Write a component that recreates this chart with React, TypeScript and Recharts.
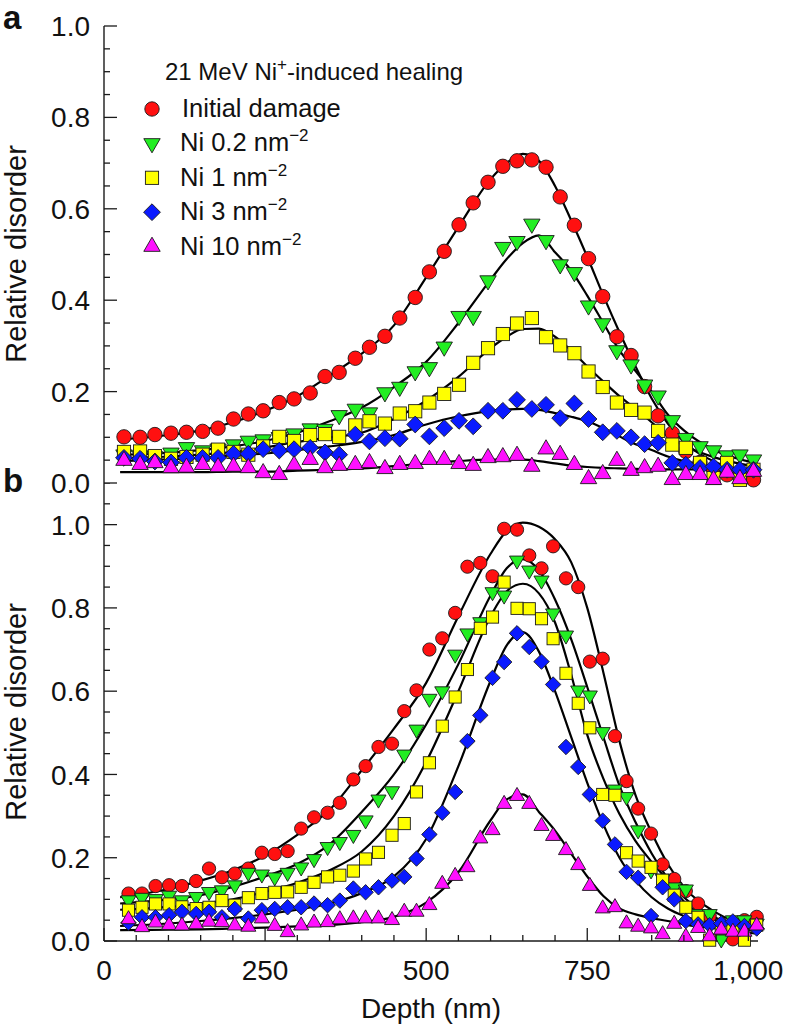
import React from "react";
import { ComposedChart, Line, Scatter, XAxis, YAxis } from "recharts";

// depth grid (nm) of the measured points, panel a and panel b
const depthA = [31, 56, 79, 104, 128, 153, 177, 201, 224, 247, 272, 295, 320, 343, 365, 390, 412, 436, 459, 483, 505, 528, 551, 573, 596, 619, 641, 664, 686, 708, 730, 752, 774, 796, 818, 839, 860, 882, 903, 925, 946, 967, 987, 1008];
const depthB = [38, 59, 80, 101, 121, 143, 163, 183, 203, 224, 245, 265, 285, 306, 326, 347, 366, 387, 406, 426, 447, 466, 485, 505, 525, 545, 564, 584, 603, 621, 641, 660, 679, 697, 717, 736, 754, 774, 793, 811, 829, 849, 867, 885, 903, 922, 940, 958, 976, 994, 1013];

// panel a: 21 MeV Ni-induced healing
const initialA = [0.101, 0.100, 0.106, 0.109, 0.111, 0.113, 0.120, 0.140, 0.151, 0.158, 0.176, 0.184, 0.197, 0.233, 0.242, 0.273, 0.297, 0.321, 0.361, 0.406, 0.462, 0.507, 0.565, 0.613, 0.658, 0.693, 0.705, 0.707, 0.691, 0.626, 0.564, 0.491, 0.408, 0.320, 0.279, 0.211, 0.147, 0.109, 0.069, 0.045, 0.030, 0.018, 0.012, 0.007];
const ni02A = [0.062, 0.060, 0.058, 0.066, 0.078, 0.071, 0.075, 0.084, 0.092, 0.095, 0.100, 0.108, 0.119, 0.118, 0.148, 0.162, 0.154, 0.198, 0.210, 0.244, 0.253, 0.298, 0.365, 0.365, 0.443, 0.516, 0.529, 0.567, 0.531, 0.478, 0.461, 0.388, 0.349, 0.290, 0.259, 0.215, 0.191, 0.137, 0.098, 0.080, 0.071, 0.060, 0.062, 0.051];
const ni1A = [0.068, 0.069, 0.059, 0.053, 0.057, 0.062, 0.073, 0.068, 0.062, 0.080, 0.101, 0.092, 0.105, 0.107, 0.101, 0.126, 0.135, 0.130, 0.152, 0.157, 0.176, 0.195, 0.215, 0.263, 0.295, 0.326, 0.349, 0.361, 0.319, 0.301, 0.284, 0.244, 0.210, 0.176, 0.160, 0.154, 0.114, 0.084, 0.077, 0.044, 0.011, 0.044, 0.007, 0.029];
const ni3A = [0.055, 0.053, 0.047, 0.045, 0.055, 0.055, 0.055, 0.064, 0.064, 0.074, 0.071, 0.074, 0.077, 0.067, 0.062, 0.106, 0.091, 0.098, 0.097, 0.128, 0.102, 0.120, 0.136, 0.124, 0.158, 0.158, 0.182, 0.162, 0.171, 0.142, 0.174, 0.140, 0.111, 0.114, 0.100, 0.085, 0.088, 0.044, 0.040, 0.033, 0.036, 0.029, 0.029, 0.029];
const ni10A = [0.049, 0.040, 0.044, 0.033, 0.034, 0.040, 0.035, 0.036, 0.033, 0.022, 0.018, 0.039, 0.051, 0.033, 0.038, 0.040, 0.044, 0.031, 0.040, 0.042, 0.051, 0.051, 0.042, 0.038, 0.055, 0.057, 0.060, 0.036, 0.074, 0.062, 0.040, 0.009, 0.020, 0.049, 0.027, 0.033, 0.036, 0.007, 0.018, 0.018, 0.007, 0.023, 0.009, 0.025];

// panel b
const initialB = [0.114, 0.114, 0.132, 0.134, 0.132, 0.144, 0.174, 0.153, 0.162, 0.174, 0.212, 0.209, 0.216, 0.270, 0.297, 0.308, 0.332, 0.388, 0.420, 0.466, 0.474, 0.552, 0.602, 0.700, 0.727, 0.788, 0.899, 0.908, 0.876, 0.990, 0.988, 0.926, 0.895, 0.948, 0.871, 0.850, 0.671, 0.678, 0.492, 0.384, 0.318, 0.258, 0.184, 0.149, 0.120, 0.090, 0.060, 0.040, 0.004, 0.050, 0.058];
const ni02B = [0.098, 0.104, 0.101, 0.109, 0.098, 0.106, 0.118, 0.122, 0.134, 0.164, 0.160, 0.153, 0.164, 0.177, 0.197, 0.226, 0.238, 0.255, 0.290, 0.340, 0.360, 0.448, 0.508, 0.582, 0.600, 0.688, 0.739, 0.766, 0.838, 0.830, 0.914, 0.890, 0.866, 0.787, 0.734, 0.602, 0.590, 0.502, 0.364, 0.346, 0.266, 0.170, 0.150, 0.129, 0.124, 0.065, 0.065, 0.004, 0.050, 0.050, 0.042];
const ni1B = [0.074, 0.081, 0.089, 0.089, 0.082, 0.078, 0.081, 0.097, 0.086, 0.104, 0.114, 0.117, 0.118, 0.129, 0.141, 0.154, 0.158, 0.168, 0.197, 0.213, 0.254, 0.282, 0.358, 0.428, 0.516, 0.586, 0.652, 0.751, 0.778, 0.862, 0.799, 0.798, 0.774, 0.726, 0.643, 0.571, 0.512, 0.352, 0.350, 0.212, 0.192, 0.177, 0.146, 0.110, 0.081, 0.057, 0.002, 0.030, 0.030, 0.002, 0.038];
const ni3B = [0.044, 0.057, 0.057, 0.062, 0.070, 0.065, 0.070, 0.057, 0.077, 0.054, 0.074, 0.077, 0.081, 0.081, 0.090, 0.086, 0.097, 0.126, 0.117, 0.129, 0.145, 0.154, 0.198, 0.256, 0.308, 0.358, 0.480, 0.542, 0.632, 0.670, 0.739, 0.706, 0.671, 0.616, 0.466, 0.418, 0.352, 0.289, 0.232, 0.166, 0.152, 0.060, 0.129, 0.100, 0.048, 0.040, 0.038, 0.042, 0.047, 0.036, 0.030];
const ni10B = [0.052, 0.033, 0.044, 0.038, 0.037, 0.040, 0.046, 0.045, 0.037, 0.034, 0.054, 0.036, 0.021, 0.037, 0.044, 0.045, 0.052, 0.054, 0.054, 0.054, 0.050, 0.070, 0.070, 0.086, 0.137, 0.156, 0.177, 0.246, 0.266, 0.329, 0.348, 0.329, 0.276, 0.252, 0.218, 0.182, 0.132, 0.078, 0.081, 0.042, 0.034, 0.030, 0.016, 0.041, 0.010, 0.031, 0.011, 0.027, 0.022, 0.022, 0.037];

// fitted curves, read at these depths
const fitDepth = [25, 100, 150, 200, 250, 300, 350, 400, 450, 500, 550, 600, 625, 650, 675, 700, 725, 750, 775, 800, 825, 850, 875, 900, 950, 1010];
const initialFitA = [0.095, 0.105, 0.115, 0.133, 0.158, 0.19, 0.235, 0.283, 0.345, 0.45, 0.56, 0.665, 0.70, 0.72, 0.705, 0.65, 0.575, 0.495, 0.41, 0.33, 0.255, 0.185, 0.13, 0.09, 0.045, 0.022];
const ni02FitA = [0.062, 0.066, 0.072, 0.08, 0.092, 0.11, 0.135, 0.165, 0.21, 0.265, 0.35, 0.445, 0.49, 0.525, 0.542, 0.505, 0.465, 0.41, 0.35, 0.29, 0.245, 0.2, 0.15, 0.115, 0.07, 0.044];
const ni1FitA = [0.055, 0.058, 0.062, 0.068, 0.078, 0.09, 0.1, 0.11, 0.14, 0.18, 0.232, 0.295, 0.32, 0.337, 0.338, 0.32, 0.29, 0.255, 0.222, 0.19, 0.162, 0.133, 0.102, 0.082, 0.055, 0.036];
const ni3FitA = [0.048, 0.052, 0.055, 0.06, 0.065, 0.072, 0.08, 0.09, 0.105, 0.128, 0.146, 0.158, 0.161, 0.162, 0.16, 0.153, 0.145, 0.135, 0.12, 0.102, 0.085, 0.072, 0.058, 0.048, 0.036, 0.029];
const ni10FitA = [0.024, 0.024, 0.024, 0.025, 0.025, 0.027, 0.029, 0.032, 0.037, 0.043, 0.048, 0.051, 0.051, 0.051, 0.048, 0.043, 0.038, 0.035, 0.033, 0.032, 0.031, 0.03, 0.03, 0.03, 0.029, 0.029];
const initialFitB = [0.105, 0.125, 0.145, 0.17, 0.205, 0.255, 0.315, 0.41, 0.51, 0.62, 0.78, 0.93, 0.985, 1.005, 0.995, 0.965, 0.91, 0.80, 0.645, 0.48, 0.35, 0.26, 0.185, 0.13, 0.068, 0.03];
const ni02FitB = [0.09, 0.10, 0.11, 0.13, 0.155, 0.185, 0.232, 0.31, 0.40, 0.52, 0.665, 0.83, 0.895, 0.917, 0.89, 0.82, 0.725, 0.61, 0.49, 0.373, 0.285, 0.21, 0.15, 0.105, 0.055, 0.025];
const ni1FitB = [0.075, 0.082, 0.09, 0.10, 0.118, 0.14, 0.17, 0.215, 0.30, 0.43, 0.60, 0.78, 0.84, 0.858, 0.835, 0.765, 0.64, 0.495, 0.39, 0.305, 0.24, 0.19, 0.145, 0.095, 0.05, 0.026];
const ni3FitB = [0.036, 0.042, 0.048, 0.055, 0.064, 0.075, 0.09, 0.115, 0.155, 0.245, 0.42, 0.625, 0.71, 0.742, 0.695, 0.60, 0.49, 0.38, 0.28, 0.2, 0.145, 0.105, 0.078, 0.06, 0.04, 0.025];
const ni10FitB = [0.026, 0.027, 0.028, 0.03, 0.032, 0.035, 0.038, 0.045, 0.058, 0.092, 0.165, 0.29, 0.34, 0.352, 0.31, 0.265, 0.21, 0.155, 0.108, 0.078, 0.064, 0.055, 0.048, 0.04, 0.03, 0.018];

// ticks
const xTicks = [0, 50, 100, 150, 200, 250, 300, 350, 400, 450, 500, 550, 600, 650, 700, 750, 800, 850, 900, 950, 1000];
const xMajor = [0, 250, 500, 750, 1000];
const xLabels = ["0", "250", "500", "750", "1,000"];
const yTicksA = [0, 0.05, 0.1, 0.15, 0.2, 0.25, 0.3, 0.35, 0.4, 0.45, 0.5, 0.55, 0.6, 0.65, 0.7, 0.75, 0.8, 0.85, 0.9, 0.95, 1.0];
const yTicksB = [...yTicksA, 1.05, 1.1];
const yMajor = [0, 0.2, 0.4, 0.6, 0.8, 1.0];
const yLabels = ["0.0", "0.2", "0.4", "0.6", "0.8", "1.0"];

const seriesStyle = [
  { name: "Initial damage", sup: "", color: "#ff1010", kind: "circle" },
  { name: "Ni 0.2 nm", sup: "\u22122", color: "#22ee22", kind: "down" },
  { name: "Ni 1 nm", sup: "\u22122", color: "#ffff00", kind: "square" },
  { name: "Ni 3 nm", sup: "\u22122", color: "#0a1aff", kind: "diamond" },
  { name: "Ni 10 nm", sup: "\u22122", color: "#ff10ff", kind: "up" },
];

const FONT = '"Liberation Sans", Arial, Helvetica, sans-serif';
const INK = "#1a1a1a";

const zip = (xs: number[], ys: number[]) => xs.map((x, i) => ({ x, y: ys[i] }));

function Marker({ kind, cx, cy, color, k = 1 }: any) {
  const common = { fill: color, stroke: INK, strokeWidth: 0.9 };
  if (kind === "circle") return <circle cx={cx} cy={cy} r={7.2 * k} {...common} />;
  if (kind === "square") {
    const h = 6.6 * k;
    return <rect x={cx - h} y={cy - h} width={2 * h} height={2 * h} {...common} />;
  }
  if (kind === "diamond") {
    const d = 8.4 * k;
    return <path d={`M${cx},${cy - d}L${cx + d},${cy}L${cx},${cy + d}L${cx - d},${cy}Z`} {...common} />;
  }
  const a = 8.2 * k;
  if (kind === "down")
    return <path d={`M${cx - a},${cy - a * 0.58}L${cx + a},${cy - a * 0.58}L${cx},${cy + a * 1.15}Z`} {...common} />;
  return <path d={`M${cx - a},${cy + a * 0.58}L${cx + a},${cy + a * 0.58}L${cx},${cy - a * 1.15}Z`} {...common} />;
}

const MARGIN = 10;
const findMajor = (v: number, majors: number[]) => majors.findIndex((m) => Math.abs(m - v) < 1e-6);

function makeTick(side: string, labels: boolean) {
  return (p: any) => {
    const v = p.payload.value;
    const c = p.payload.coordinate;
    const isX = side === "bottom" || side === "top";
    const mi = findMajor(v, isX ? xMajor : yMajor);
    const len = mi >= 0 ? 13 : 6;
    let line;
    let label = null;
    if (side === "left") {
      const ax = p.x + MARGIN;
      line = <line x1={ax} x2={ax + len} y1={c} y2={c} />;
      if (labels && mi >= 0)
        label = <text x={ax - 14} y={c} dy="0.36em" textAnchor="end">{yLabels[mi]}</text>;
    } else if (side === "right") {
      const ax = p.x - MARGIN;
      line = <line x1={ax} x2={ax - len} y1={c} y2={c} />;
    } else if (side === "top") {
      const ay = p.y + MARGIN;
      line = <line x1={c} x2={c} y1={ay} y2={ay + len} />;
    } else {
      const ay = p.y - MARGIN;
      line = <line x1={c} x2={c} y1={ay} y2={ay - len} />;
      if (labels && mi >= 0)
        label = <text x={c} y={ay + 39} textAnchor="middle">{xLabels[mi]}</text>;
    }
    return (
      <g stroke={INK} strokeWidth={1.3}>
        {line}
        {label && (
          <g stroke="none" fill="#111" fontSize={28} fontFamily={FONT}>
            {label}
          </g>
        )}
      </g>
    );
  };
}

const axisLine = { stroke: INK, strokeWidth: 1.4 };

function Panel({ height, margin, yMax, yTicks, points, fits, xLabelsOn, bottomH, k }: any) {
  return (
    <ComposedChart width={788} height={height} margin={margin}>
      <XAxis dataKey="x" type="number" domain={[0, 1015]} ticks={xTicks} interval={0} height={bottomH}
        tickSize={0} tickMargin={MARGIN} tickLine={false} axisLine={axisLine} tick={makeTick("bottom", xLabelsOn)} />
      <XAxis xAxisId="top" orientation="top" dataKey="x" type="number" domain={[0, 1015]} ticks={xTicks} interval={0}
        height={0} allowDataOverflow tickSize={0} tickMargin={MARGIN} tickLine={false} axisLine={axisLine} tick={makeTick("top", false)} />
      <YAxis dataKey="y" type="number" domain={[0, yMax]} ticks={yTicks} interval={0} width={104}
        tickSize={0} tickMargin={MARGIN} tickLine={false} axisLine={axisLine} tick={makeTick("left", true)} />
      <YAxis yAxisId="right" orientation="right" dataKey="y" type="number" domain={[0, yMax]} ticks={yTicks} interval={0}
        width={0} allowDataOverflow tickSize={0} tickMargin={MARGIN} tickLine={false} axisLine={axisLine} tick={makeTick("right", false)} />
      {fits.map((f: any, i: number) => (
        <Line key={"f" + i} data={f} dataKey="y" type="monotone" stroke="#000" strokeWidth={2.2}
          dot={false} activeDot={false} isAnimationActive={false} legendType="none" />
      ))}
      {points.map((pts: any, i: number) => (
        <Scatter key={"s" + i} data={pts} dataKey="y" isAnimationActive={false}
          shape={(p: any) => <Marker kind={seriesStyle[i].kind} cx={p.cx} cy={p.cy} color={seriesStyle[i].color} k={k} />} />
      ))}
    </ComposedChart>
  );
}

export default function App() {
  const pointsA = [initialA, ni02A, ni1A, ni3A, ni10A].map((ys) => zip(depthA, ys));
  const pointsB = [initialB, ni02B, ni1B, ni3B, ni10B].map((ys) => zip(depthB, ys));
  const fitsA = [initialFitA, ni02FitA, ni1FitA, ni3FitA, ni10FitA].map((ys) => zip(fitDepth, ys));
  const fitsB = [initialFitB, ni02FitB, ni1FitB, ni3FitB, ni10FitB].map((ys) => zip(fitDepth, ys));

  return (
    <div style={{ position: "absolute", left: 0, top: 0, width: 788, height: 1025, background: "#fff", fontFamily: FONT }}>
      <div style={{ position: "absolute", left: 0, top: 0 }}>
        <Panel height={500} margin={{ top: 26, right: 30, bottom: 17, left: 0 }} yMax={1.0} yTicks={yTicksA}
          points={pointsA} fits={fitsA} xLabelsOn={false} bottomH={0} k={1} />
      </div>
      <div style={{ position: "absolute", left: 0, top: 483 }}>
        <Panel height={542} margin={{ top: 0, right: 30, bottom: 24, left: 0 }} yMax={1.1} yTicks={yTicksB}
          points={pointsB} fits={fitsB} xLabelsOn={true} bottomH={60} k={0.92} />
      </div>
      <svg width={788} height={1025} style={{ position: "absolute", left: 0, top: 0, pointerEvents: "none" }}
        fontFamily={FONT} fill="#111">
        <text x={3} y={29} fontSize={33} fontWeight="bold">a</text>
        <text x={3} y={492} fontSize={33} fontWeight="bold">b</text>
        <text transform="translate(26,254) rotate(-90)" textAnchor="middle" fontSize={29}>Relative disorder</text>
        <text transform="translate(26,712) rotate(-90)" textAnchor="middle" fontSize={29}>Relative disorder</text>
        <text x={431} y={1018} textAnchor="middle" fontSize={28}>Depth (nm)</text>
        <text x={165} y={80} fontSize={24}>
          21 MeV Ni<tspan dy={-10} fontSize={17}>+</tspan><tspan dy={10}>-induced healing</tspan>
        </text>
        {seriesStyle.map((s, i) => {
          const cy = 109 + i * 34.4;
          return (
            <g key={s.name}>
              <Marker kind={s.kind} cx={152} cy={cy} color={s.color} />
              <text x={i === 0 ? 182 : 180} y={cy + 8} fontSize={25.5}>
                {s.name}
                {s.sup && <tspan dy={-10} fontSize={17}>{s.sup}</tspan>}
              </text>
            </g>
          );
        })}
      </svg>
    </div>
  );
}
